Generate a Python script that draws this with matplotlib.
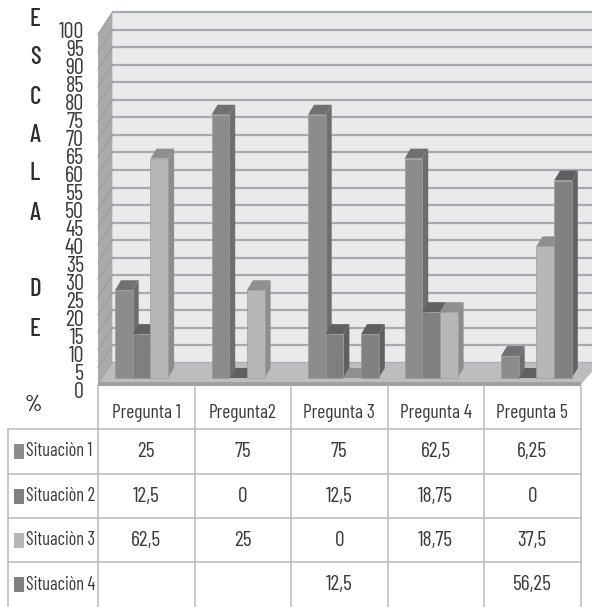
import matplotlib
matplotlib.use("Agg")
import matplotlib.pyplot as plt
from matplotlib.patches import Polygon, Rectangle

questions = ["Pregunta 1", "Pregunta2", "Pregunta 3", "Pregunta 4", "Pregunta 5"]
situations = ["Situaciòn 1", "Situaciòn 2", "Situaciòn 3", "Situaciòn 4"]
sit1 = [25, 75, 75, 62.5, 6.25]
sit2 = [12.5, 0, 12.5, 18.75, 0]
sit3 = [62.5, 25, 0, 18.75, 37.5]
sit4 = [None, None, 12.5, None, 56.25]
series = [sit1, sit2, sit3, sit4]
scale_ticks = list(range(0, 101, 5))
side_title = ["E", "S", "C", "A", "L", "A", "D", "E"]

# front, top and side shades for each situation
shades = [("#8b8c8e", "#707173", "#6d6e70"),
          ("#7e7f81", "#5f6062", "#5f6062"),
          ("#b6b7b9", "#8e8f91", "#8c8d8f"),
          ("#808183", "#5d5e60", "#616264")]

W, H = 592, 607
FONT = ["Barlow Condensed", "Pragati Narrow", "Open Sans", "DejaVu Sans"]
plt.rcParams["font.family"] = FONT

fig = plt.figure(figsize=(W / 100, H / 100), dpi=100, facecolor="white")

# Front plane of the 3D plot: columns span x 98-580.5 px, y=0 sits at 378 px, 3.51 px per unit
COL = 96.5
UNIT = 3.51
ax = fig.add_axes([98 / W, 1 - 378 / H, 5 * COL / W, 100 * UNIT / H])
ax.set_xlim(0, 5)
ax.set_ylim(0, 100)
ax.axis("off")


def px_x(p):
    return p / COL


def px_y(p):
    return p / UNIT


def poly(points, color, z):
    ax.add_patch(Polygon(points, closed=True, facecolor=color, edgecolor="none",
                         clip_on=False, zorder=z))


# Wall, side wall and floor; the wall recedes 15 px right and 22 px up
wx, wy = px_x(14.5), px_y(22)
base = px_y(-7)
poly([(wx, base + wy), (5.2, base + wy), (5.2, 100 + base + wy), (wx, 100 + base + wy)], "#e9eaea", 1)
poly([(0, base), (wx, base + wy), (wx, 100 + base + wy), (0, 100 + base)], "#a9aaac", 1)
for v in scale_ticks:
    ax.plot([wx, 5.2], [v + base + wy] * 2, color="#a9aaac", lw=1.6, clip_on=False, zorder=2)
    ax.plot([0, wx], [v + base, v + base + wy], color="#9c9d9f", lw=0.8, clip_on=False, zorder=2)
poly([(0, base), (wx, base + wy), (5.2, base + wy), (5.0, base)], "#bcbdbe", 3)
poly([(0, base - px_y(1)), (0, base + px_y(3)), (5.0, base + px_y(3)), (5.0, base - px_y(1))], "#9fa0a2", 3)

# Bars, drawn left to right so each front face covers its neighbour's side
bar_w = 17.7 / COL
start = 17 / COL
dx, dy = px_x(6), px_y(10)
z = 4
for q in range(len(questions)):
    for s, values in enumerate(series):
        v = values[q]
        if v is None:
            continue
        x0 = q + start + s * bar_w
        x1 = x0 + bar_w
        front, top, side = shades[s]
        poly([(x1, 0), (x1 + dx, dy), (x1 + dx, v + dy), (x1, v)], side, z)
        poly([(x0, v), (x0 + dx, v + dy), (x1 + dx, v + dy), (x1, v)], top, z)
        if v > 0:
            ax.add_patch(Rectangle((x0, 0), bar_w, v, facecolor=front, edgecolor="#9a9b9d",
                                   lw=0.5, clip_on=False, zorder=z))
        z += 1

# Overlay in pixel coordinates for the data table and the outer labels
ov = fig.add_axes([0, 0, 1, 1], zorder=5)
ov.set_xlim(0, W)
ov.set_ylim(H, 0)
ov.axis("off")
ov.patch.set_alpha(0)

col_x = [98 + i * COL for i in range(6)]
row_y = [429, 474, 518, 562, 607]
line = dict(color="#b9babc", lw=1.1)
ov.plot([8, col_x[-1]], [row_y[0]] * 2, **line)
for y in row_y[1:4]:
    ov.plot([8, col_x[-1]], [y, y], **line)
ov.plot([8, 8], [row_y[0], H], **line)
for x in col_x:
    ov.plot([x, x], [386, H], **line)

TEXT = "#3a3a3a"
for i, name in enumerate(questions):
    ov.text(col_x[i] + COL / 2, 413, name, ha="center", va="center", fontsize=14, color=TEXT)
for r, name in enumerate(situations):
    yc = (row_y[r] + row_y[r + 1]) / 2
    ov.add_patch(Rectangle((14, yc - 7.5), 9.5, 15, facecolor=shades[r][0], edgecolor="none"))
    ov.text(26, yc, name, ha="left", va="center", fontsize=13.2, color=TEXT)
    for c, v in enumerate(series[r]):
        if v is not None:
            ov.text(col_x[c] + COL / 2, yc, f"{v:g}".replace(".", ","), ha="center",
                    va="center", fontsize=15.5, color=TEXT)

# Scale labels are packed tightly along the left of the plot
for v in scale_ticks:
    ov.text(84, 392 - 3.59 * v, str(v), ha="right", va="center", fontsize=16, color=TEXT)

for letter, y in zip(side_title, [19, 58, 98, 135, 173, 213, 290, 330]):
    ov.text(35, y, letter, ha="center", va="center", fontsize=18, fontweight="medium", color="#2c2c2c")
ov.text(33, 405, "%", ha="center", va="center", fontsize=16, fontweight="medium", color="#2c2c2c")

fig.savefig("out.png", dpi=100, facecolor="white")
